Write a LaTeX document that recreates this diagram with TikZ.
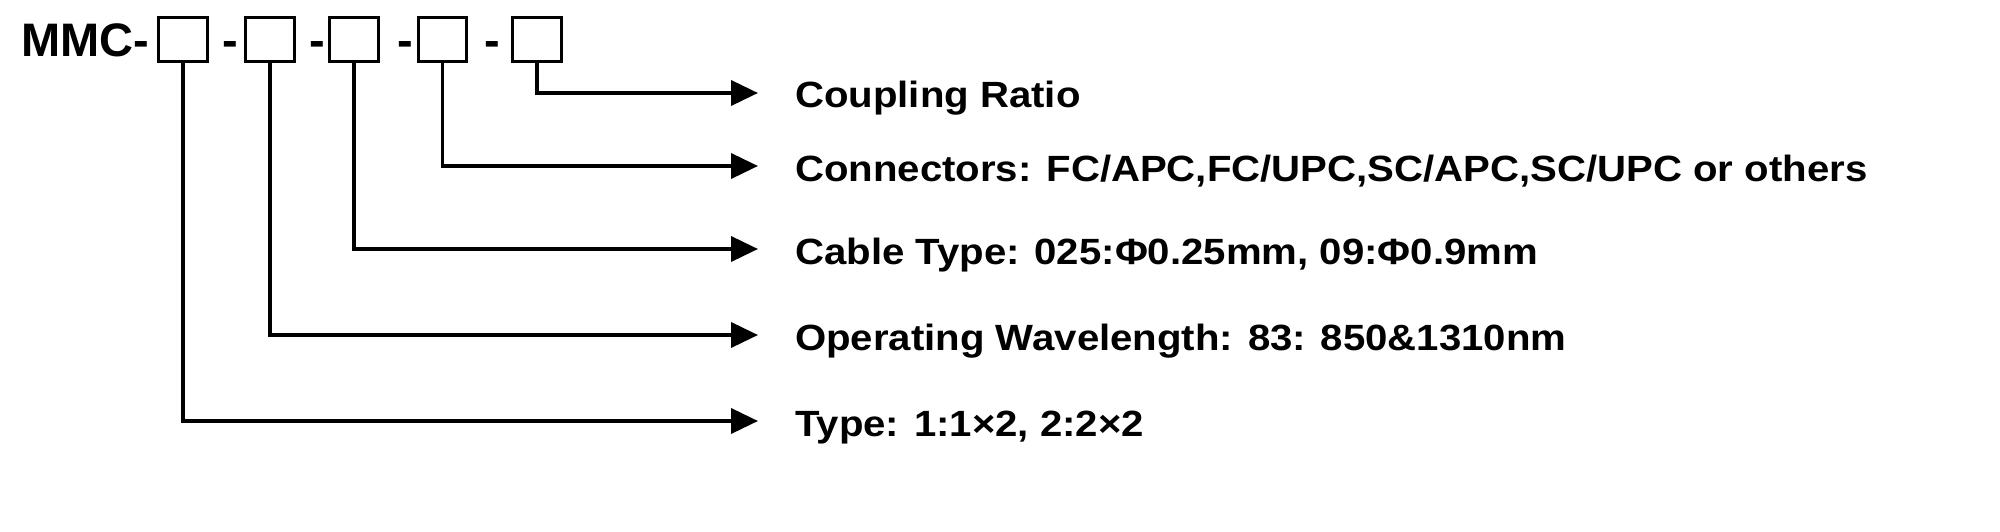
\documentclass[tikz,border=0pt]{standalone}
\usepackage{fontspec}
\setmainfont{Liberation Sans}
\newfontfamily\labfont[FakeStretch=1.1]{Liberation Sans}
\usetikzlibrary{arrows.meta}
\begin{document}
\begin{tikzpicture}[x=1pt,y=-1pt,
  box/.style={draw,line width=3.3pt,minimum width=48.5pt,minimum height=43.5pt,inner sep=0pt},
  title/.style={font=\fontsize{47}{50}\selectfont\bfseries,inner sep=0pt,anchor=base west},
  hy/.style={font=\fontsize{47}{50}\selectfont\bfseries,inner sep=0pt,anchor=base},
  lab/.style={font=\labfont\fontsize{36.5}{40}\selectfont\bfseries,inner sep=0pt,anchor=west,text height=30pt,text depth=0pt},
  conn/.style={line width=3.8pt,-{Triangle[length=27pt,width=25pt]}}]
\useasboundingbox[fill=white] (0,0) rectangle (2000,532);
\node[title] (mmc) at (21,57) {MMC-};
\node[box] (b1) at (183,39.5) {};
\node[hy] (h2) at (230.5,57) {-};
\node[box] (b2) at (270,39.5) {};
\node[hy] (h3) at (317.5,57) {-};
\node[box] (b3) at (354,39.5) {};
\node[hy] (h4) at (405,57) {-};
\node[box] (b4) at (442.5,39.5) {};
\node[hy] (h5) at (492,57) {-};
\node[box] (b5) at (537,39.5) {};
\node[lab] (t5) at (795,93) {Coupling Ratio};
\node[lab] (t4) at (795,166) {Connectors: FC/APC,FC/UPC,SC/APC,SC/UPC or others};
\node[lab] (t3) at (795,249) {Cable Type: 025:Φ0.25mm, 09:Φ0.9mm};
\node[lab] (t2) at (795,335) {Operating Wavelength: 83: 850\&1310nm};
\node[lab] (t1) at (795,421) {Type: 1:1×2, 2:2×2};
\foreach \i in {1,...,5}{
  \coordinate (e\i) at ([xshift=-37pt]t\i.west);
  \draw[conn] (b\i.south) |- (e\i);
}
\end{tikzpicture}
\end{document}
